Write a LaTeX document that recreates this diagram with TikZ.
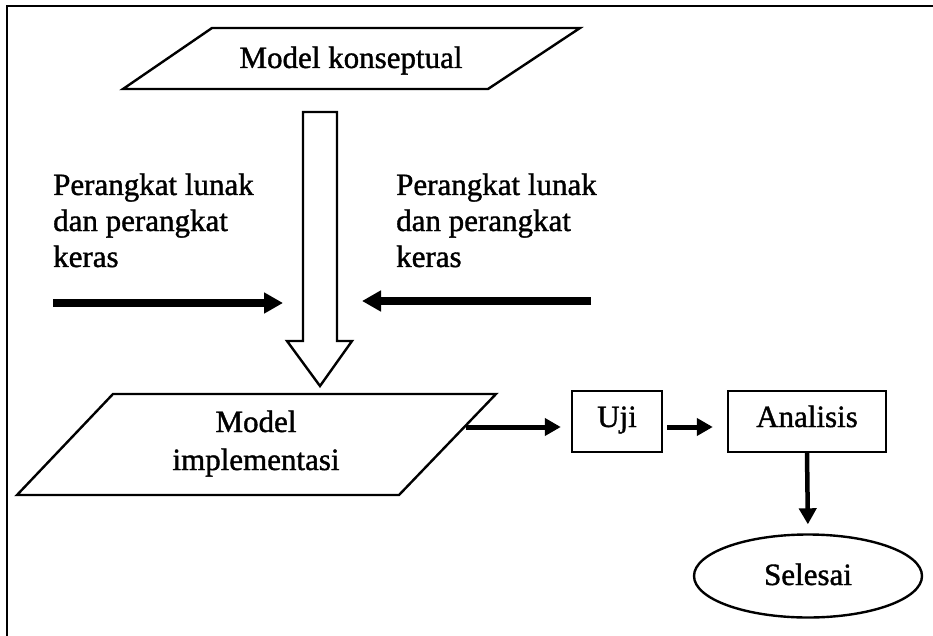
\documentclass[tikz,border=0pt]{standalone}
\usepackage{fontspec}
\setmainfont{Liberation Serif}[FakeBold=1.2]
\usetikzlibrary{arrows.meta,shapes.geometric}
\begin{document}
\begin{tikzpicture}[x=1pt,y=-1pt,
  outline/.style={line width=2.4pt, line join=miter},
  label/.style={font=\fontsize{31}{36}\selectfont, inner sep=0pt},
  box/.style={outline, draw, font=\fontsize{31}{36}\selectfont, inner sep=0pt,
              text height=20pt, text depth=9pt},
  bigflow/.style={line width=7.5pt, -{Triangle[length=19pt,width=20pt]}},
  flow/.style={line width=5pt, -{Triangle[length=16pt,width=17pt]}},
]
\useasboundingbox (0,0) rectangle (933,636);

% page frame
\draw[line width=2.5pt, line join=miter] (7,636) -- (7,6) -- (933,6);

% conceptual model (parallelogram)
\draw[outline] (123,89) -- (212,28) -- (580,28) -- (488,89) -- cycle;
\node[label, anchor=base] (konsep) at (351,68) {Model konseptual};

% hollow block arrow down to the implementation model
\draw[outline] (303,112) -- (337,112) -- (337,341) -- (352,341)
  -- (320,386) -- (287,341) -- (303,341) -- cycle;

% software / hardware inputs
\node[label, anchor=base west] (hwl) at (53,195)
  {\begin{tabular}[t]{@{}l@{}}Perangkat lunak\\dan perangkat\\keras\end{tabular}};
\node[label, anchor=base west] (hwr) at (396,195)
  {\begin{tabular}[t]{@{}l@{}}Perangkat lunak\\dan perangkat\\keras\end{tabular}};
\coordinate (inL) at (53,303);
\coordinate (inLtip) at (283,303);
\coordinate (inR) at (591,301);
\coordinate (inRtip) at (362,301);
\draw[bigflow] (inL) -- (inLtip);
\draw[bigflow] (inR) -- (inRtip);

% implementation model (parallelogram)
\draw[outline] (17,495) -- (113,394) -- (496,394) -- (399,495) -- cycle;
\node[label, font=\fontsize{31}{38}\selectfont, anchor=base] (impl) at (256,432)
  {\begin{tabular}[t]{@{}c@{}}Model\\implementasi\end{tabular}};
\coordinate (implout) at (466,427);

% test, analysis, end
\node[box, minimum width=90pt, minimum height=61pt] (uji) at (617,421.5) {Uji};
\node[box, minimum width=158pt, minimum height=61pt] (ana) at (807,421.5) {Analisis};
\node[box, ellipse, minimum width=228pt, minimum height=83pt, text depth=2pt]
  (selesai) at (808,576) {Selesai};

\draw[flow, shorten >=10pt] (implout) -- (uji.west |- implout);
\draw[flow, shorten <=4pt, shorten >=14pt] (uji.east |- implout) -- (ana.west |- implout);
\draw[flow, line width=4.5pt, shorten >=9pt] (ana.south) -- (selesai.north);
\end{tikzpicture}
\end{document}
